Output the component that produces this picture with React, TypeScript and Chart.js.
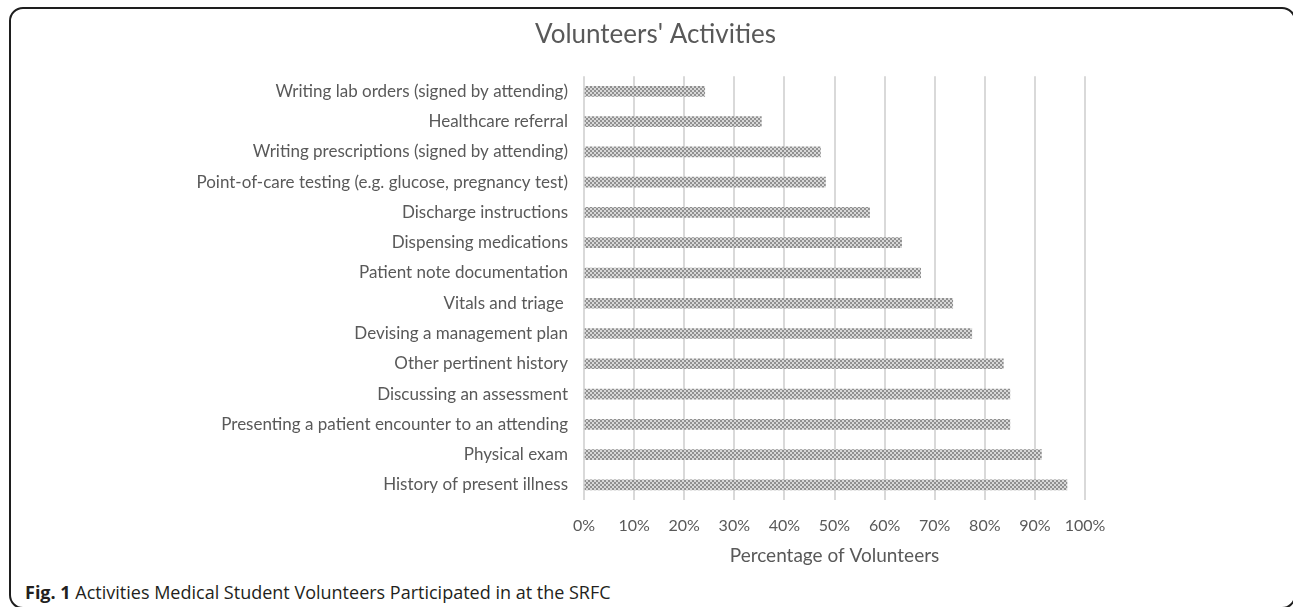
import React, { useEffect, useRef } from "react";
import { Chart, registerables } from "chart.js";

Chart.register(...registerables);

const categories: string[] = [
  "Writing lab orders (signed by attending)",
  "Healthcare referral",
  "Writing prescriptions (signed by attending)",
  "Point-of-care testing (e.g. glucose, pregnancy test)",
  "Discharge instructions",
  "Dispensing medications",
  "Patient note documentation",
  "Vitals and triage ",
  "Devising a management plan",
  "Other pertinent history",
  "Discussing an assessment",
  "Presenting a patient encounter to an attending",
  "Physical exam",
  "History of present illness",
];

const percentages: number[] = [24.1, 35.4, 47.2, 48.2, 57.0, 63.4, 67.2, 73.6, 77.4, 83.7, 85.0, 85.0, 91.3, 96.4];

const xTickValues: number[] = [0, 10, 20, 30, 40, 50, 60, 70, 80, 90, 100];

const chartTitle = "Volunteers' Activities";
const xAxisTitle = "Percentage of Volunteers";
const captionBold = "Fig. 1";
const captionText = " Activities Medical Student Volunteers Participated in at the SRFC";

function makePattern(): CanvasPattern | string {
  const c = document.createElement("canvas");
  c.width = 4;
  c.height = 4;
  const ctx = c.getContext("2d");
  if (!ctx) return "#a6a6a6";
  ctx.fillStyle = "#d8d8d8";
  ctx.fillRect(0, 0, 4, 4);
  ctx.fillStyle = "#909090";
  ctx.fillRect(0, 0, 2, 2);
  ctx.fillRect(2, 2, 2, 2);
  const p = ctx.createPattern(c, "repeat");
  return p || "#a6a6a6";
}

export default function App() {
  const canvasRef = useRef<HTMLCanvasElement | null>(null);

  useEffect(() => {
    document.body.style.margin = "0";
    document.body.style.overflow = "hidden";
    const canvas = canvasRef.current;
    if (!canvas) return;
    const textColor = "#595959";
    const fam = "Lato, 'Open Sans', sans-serif";
    const chart = new Chart(canvas, {
      type: "bar",
      data: {
        labels: categories,
        datasets: [
          {
            label: "Percentage of Volunteers",
            data: percentages,
            backgroundColor: makePattern() as any,
            borderWidth: 0,
            barThickness: 10,
            xAxisID: "x",
            yAxisID: "y",
          },
        ],
      },
      options: {
        indexAxis: "y",
        animation: false,
        responsive: true,
        maintainAspectRatio: false,
        layout: { padding: { left: 18, right: 0, top: 0, bottom: 0 } },
        plugins: {
          legend: { display: false },
          tooltip: { enabled: false },
          title: {
            display: true,
            text: chartTitle,
            color: textColor,
            font: { family: fam, size: 26, weight: "normal" as any, lineHeight: 1.2 },
            padding: { top: 19, bottom: 26 },
          },
        },
        scales: {
          x: {
            type: "linear",
            position: "bottom",
            min: 0,
            max: 100,
            afterBuildTicks: (s: any) => {
              s.ticks = xTickValues.map((v) => ({ value: v }));
            },
            ticks: {
              color: textColor,
              font: { family: fam, size: 16, lineHeight: 1.2 },
              padding: 16,
              callback: (v: any) => v + "%",
            },
            grid: { display: true, color: "#d9d9d9", lineWidth: 2, drawTicks: false },
            border: { display: false },
            title: {
              display: true,
              text: xAxisTitle,
              color: textColor,
              font: { family: fam, size: 19, lineHeight: 1.2 },
              padding: { top: 0, bottom: 8 },
            },
            afterFit: (s: any) => {
              s.height = 75;
            },
          },
          y: {
            type: "category",
            position: "left",
            ticks: {
              color: textColor,
              font: { family: fam, size: 17 },
              padding: 16,
              autoSkip: false,
            },
            grid: { display: false, drawTicks: false },
            border: { display: false },
            afterFit: (s: any) => {
              s.width = 566;
            },
          },
          yr: {
            type: "linear",
            position: "right",
            display: true,
            ticks: { display: false },
            grid: { display: false, drawTicks: false },
            border: { display: false },
            afterFit: (s: any) => {
              s.width = 208;
            },
          },
        },
      } as any,
    });
    return () => {
      chart.destroy();
    };
  }, []);

  return (
    <div
      style={{
        position: "fixed",
        left: 0,
        top: 0,
        width: 1293,
        height: 607,
        overflow: "hidden",
        background: "#ffffff",
      }}
    >
      <div
        style={{
          position: "absolute",
          left: 9,
          top: 7,
          width: 1287,
          height: 602,
          border: "2px solid #1e1e1e",
          borderRadius: 14,
          boxSizing: "border-box",
        }}
      />
      <div style={{ position: "absolute", left: 0, top: 0, width: 1293, height: 575 }}>
        <canvas ref={canvasRef} />
      </div>
      <div
        style={{
          position: "absolute",
          left: 25,
          top: 580,
          fontFamily: "'Open Sans', sans-serif",
          fontSize: 18,
          lineHeight: "24px",
          color: "#231f20",
          whiteSpace: "nowrap",
        }}
      >
        <span style={{ fontWeight: 700 }}>{captionBold}</span>
        {captionText}
      </div>
    </div>
  );
}
